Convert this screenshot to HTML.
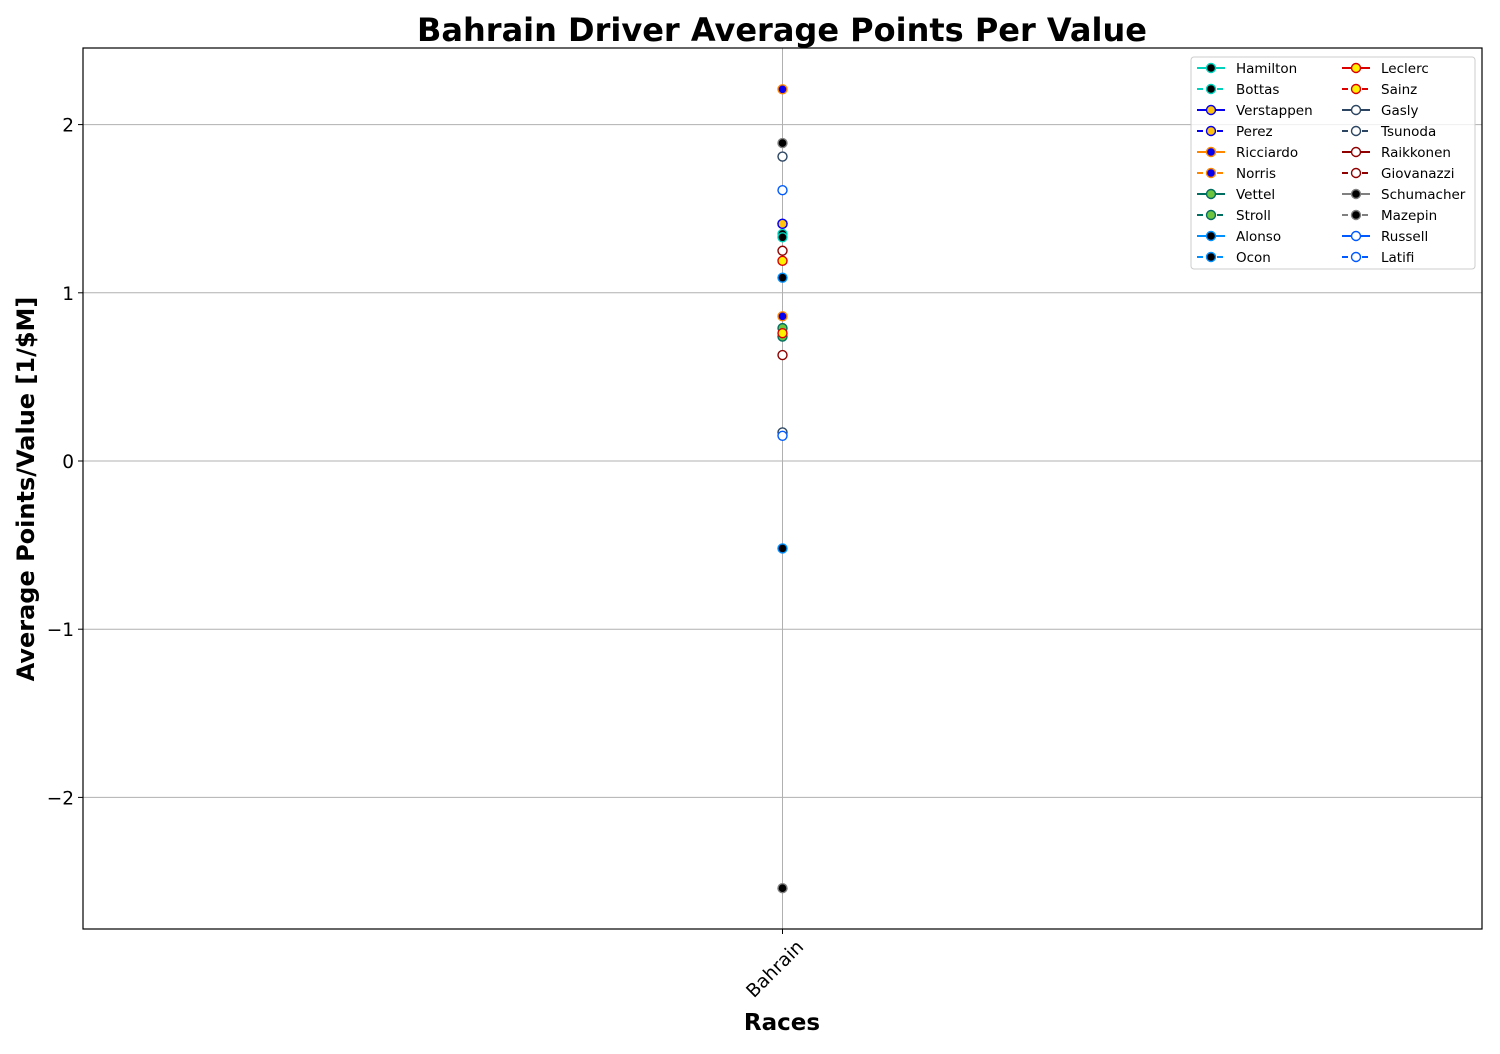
<!DOCTYPE html>
<html><head><meta charset="utf-8"><style>
body{margin:0;background:#fff;font-family:"DejaVu Sans","Liberation Sans",sans-serif;}
svg text{font-family:"DejaVu Sans","Liberation Sans",sans-serif;}
</style></head><body>
<svg id="chart" width="1500" height="1050" xmlns="http://www.w3.org/2000/svg">
<text x="782" y="41" text-anchor="middle" font-size="32" font-weight="bold">Bahrain Driver Average Points Per Value</text>
<g id="grid"></g>
<g id="pts"></g>
<rect x="83" y="48" width="1399" height="881" fill="none" stroke="#000" stroke-width="1.2"/>
<g id="axes"></g>
<text x="782" y="1030" text-anchor="middle" font-size="23" font-weight="bold">Races</text>
<text transform="translate(34,489) rotate(-90)" text-anchor="middle" font-size="24" font-weight="bold">Average Points/Value [1/$M]</text>
<g id="legend"></g>
</svg>
<script>
const categories=["Bahrain"];
const drivers=["Hamilton","Bottas","Verstappen","Perez","Ricciardo","Norris","Vettel","Stroll","Alonso","Ocon","Leclerc","Sainz","Gasly","Tsunoda","Raikkonen","Giovanazzi","Schumacher","Mazepin","Russell","Latifi"];
const values=[1.35,1.33,1.41,1.41,2.21,0.86,0.74,0.79,1.09,-0.52,1.19,0.76,1.81,0.17,1.25,0.63,1.89,-2.54,1.61,0.15];
const yTicks=[-2,-1,0,1,2];
const lineColors=["#00d2be","#00d2be","#0600ef","#0600ef","#ff8700","#ff8700","#006f62","#006f62","#0090ff","#0090ff","#dc0000","#dc0000","#2b4562","#2b4562","#900000","#900000","#808080","#808080","#005aff","#005aff"];
const faceColors=["#000","#000","#ffc20e","#ffc20e","#0600ef","#0600ef","#6cc43f","#6cc43f","#000","#000","#fff200","#fff200","#fff","#fff","#fff","#fff","#000","#000","#fff","#fff"];
const NS="http://www.w3.org/2000/svg";
const X0=83,X1=1482;
function xs(i){return X0+(X1-X0)*(i+0.5)/categories.length;}
function ys(v){return 461-v*168.2;}
function mk(tag,at,parent){const e=document.createElementNS(NS,tag);for(const k in at)e.setAttribute(k,at[k]);parent.appendChild(e);return e;}
const grid=document.getElementById('grid'),axes=document.getElementById('axes'),pts=document.getElementById('pts'),leg=document.getElementById('legend');
yTicks.forEach(t=>{const y=ys(t);
 const g=mk('line',{x1:X0,x2:X1,y1:y,y2:y,stroke:'#b0b0b0','stroke-width':1},grid);
 
 
 mk('line',{x1:X0-5,x2:X0,y1:y,y2:y,stroke:'#000'},axes);
 const tx=mk('text',{x:X0-9,y:y+7,'text-anchor':'end','font-size':18.5},axes);
 tx.textContent=t<0?'\u2212'+Math.abs(t):String(t);
 
 
});
categories.forEach((c,i)=>{const x=xs(i);
 const g=mk('line',{x1:x,x2:x,y1:48,y2:929,stroke:'#b0b0b0','stroke-width':1},grid);
 
 
 mk('line',{x1:x,x2:x,y1:929,y2:934,stroke:'#000'},axes);
 const tx=mk('text',{transform:`translate(${x+22},${948}) rotate(-45)`,'text-anchor':'end','font-size':18.5},axes);
 tx.textContent=c;
 
 
});
drivers.forEach((d,i)=>{
 const c=mk('circle',{cx:xs(0),cy:ys(values[i]),r:4.5,fill:faceColors[i],stroke:lineColors[i],'stroke-width':1.4},pts);
 
 
});
mk('rect',{x:1191,y:57,width:284,height:212,rx:3,fill:'#fff','fill-opacity':0.8,stroke:'#ccc'},leg);
drivers.forEach((d,i)=>{
 const col=Math.floor(i/10),row=i%10;
 const lx=col?1342:1197,y=68+row*21;
 const g=mk('g',{},leg);
 
 
 const dash=i%2?'6,4':'none';
 mk('line',{x1:lx,x2:lx+28,y1:y,y2:y,stroke:lineColors[i],'stroke-width':2,'stroke-dasharray':dash},g);
 mk('circle',{cx:lx+14,cy:y,r:4.5,fill:faceColors[i],stroke:lineColors[i],'stroke-width':1.4},g);
 const t=mk('text',{x:lx+39,y:y+5,'font-size':13.5},g);
 t.textContent=d;
});
</script>
</body></html>
